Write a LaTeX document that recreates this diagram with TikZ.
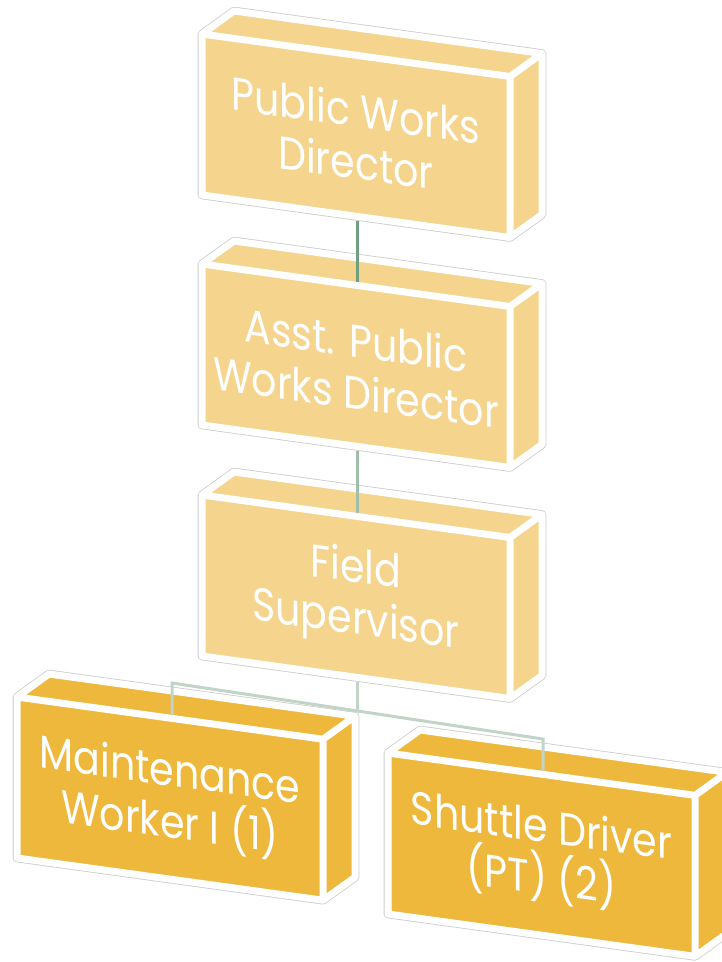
\documentclass[tikz,border=0pt]{standalone}
\usepackage{fontspec}
\setmainfont{Poppins}[FakeStretch=0.86]
\definecolor{boxlight}{HTML}{F5D48D}
\definecolor{boxdark}{HTML}{EEB83C}
\definecolor{lineA}{HTML}{6FA07F}
\definecolor{lineB}{HTML}{9FBFAB}
\definecolor{lineC}{HTML}{C2D4C8}
\def\bsl{0.138}
\def\bhh{161}
\def\bdx{32}
\def\bdy{-23}
\tikzset{
  boxshadow/.style={draw=black!20, line width=8.6pt, line join=round},
  boxedge/.style={draw=white, line width=7pt, line join=round},
  boxtext/.style={text=white, font=\fontsize{46}{52}\selectfont, align=center, inner sep=0pt, yslant=-\bsl, transform shape},
  conn/.style={line width=3pt}
}
\newcommand{\orgbox}[6]{%
  \path (#2,#3) coordinate (#1A)
    ({#2+#4},{#3+\bsl*#4}) coordinate (#1B)
    ({#2+#4},{#3+\bsl*#4+\bhh}) coordinate (#1C)
    (#2,{#3+\bhh}) coordinate (#1D)
    ({#2+\bdx},{#3+\bdy}) coordinate (#1E)
    ({#2+#4+\bdx},{#3+\bsl*#4+\bdy}) coordinate (#1F)
    ({#2+#4+\bdx},{#3+\bsl*#4+\bhh+\bdy}) coordinate (#1G);
  \draw[boxshadow] (#1A)--(#1E)--(#1F)--(#1G)--(#1C)--(#1D)--cycle;
  \fill[#5] (#1A)--(#1E)--(#1F)--(#1G)--(#1C)--(#1D)--cycle;
  \draw[boxedge] (#1A)--(#1B)--(#1C)--(#1D)--cycle (#1A)--(#1E)--(#1F)--(#1B) (#1F)--(#1G)--(#1C);
  \node[boxtext] (#1) at ({#2+#4/2},{#3+\bsl*#4/2+\bhh/2}) {#6};
}
\begin{document}
\begin{tikzpicture}[x=1pt,y=-1pt]
\useasboundingbox (0,0) rectangle (722,962);
\clip (0,0) rectangle (722,962);
\orgbox{b1}{202}{34}{308}{boxlight}{Public Works\\Director}
\orgbox{b2}{202}{264}{308}{boxlight}{Asst. Public\\Works Director}
\orgbox{b3}{202}{495}{308}{boxlight}{Field\\Supervisor}
\orgbox{b4}{17}{697}{306}{boxdark}{Maintenance\\Worker I (1)}
\orgbox{b5}{388}{753}{307}{boxdark}{Shuttle Driver\\(PT) (2)}
\coordinate (j1s) at (357,221);
\coordinate (j1e) at (357,282);
\coordinate (j2s) at (357,451);
\coordinate (j2e) at (357,513);
\coordinate (j3s) at (357,682);
\coordinate (j3m) at (357,711);
\coordinate (k4t) at (172,683);
\coordinate (k4) at (172,715);
\coordinate (k5t) at (543,739);
\coordinate (k5) at (543,771);
\draw[conn, lineA] (j1s) -- (j1e);
\draw[conn, lineB] (j2s) -- (j2e);
\draw[conn, lineC] (j3s) -- (j3m);
\draw[conn, lineC, line join=miter] (k4) -- (k4t) -- (k5t) -- (k5);
\end{tikzpicture}
\end{document}
